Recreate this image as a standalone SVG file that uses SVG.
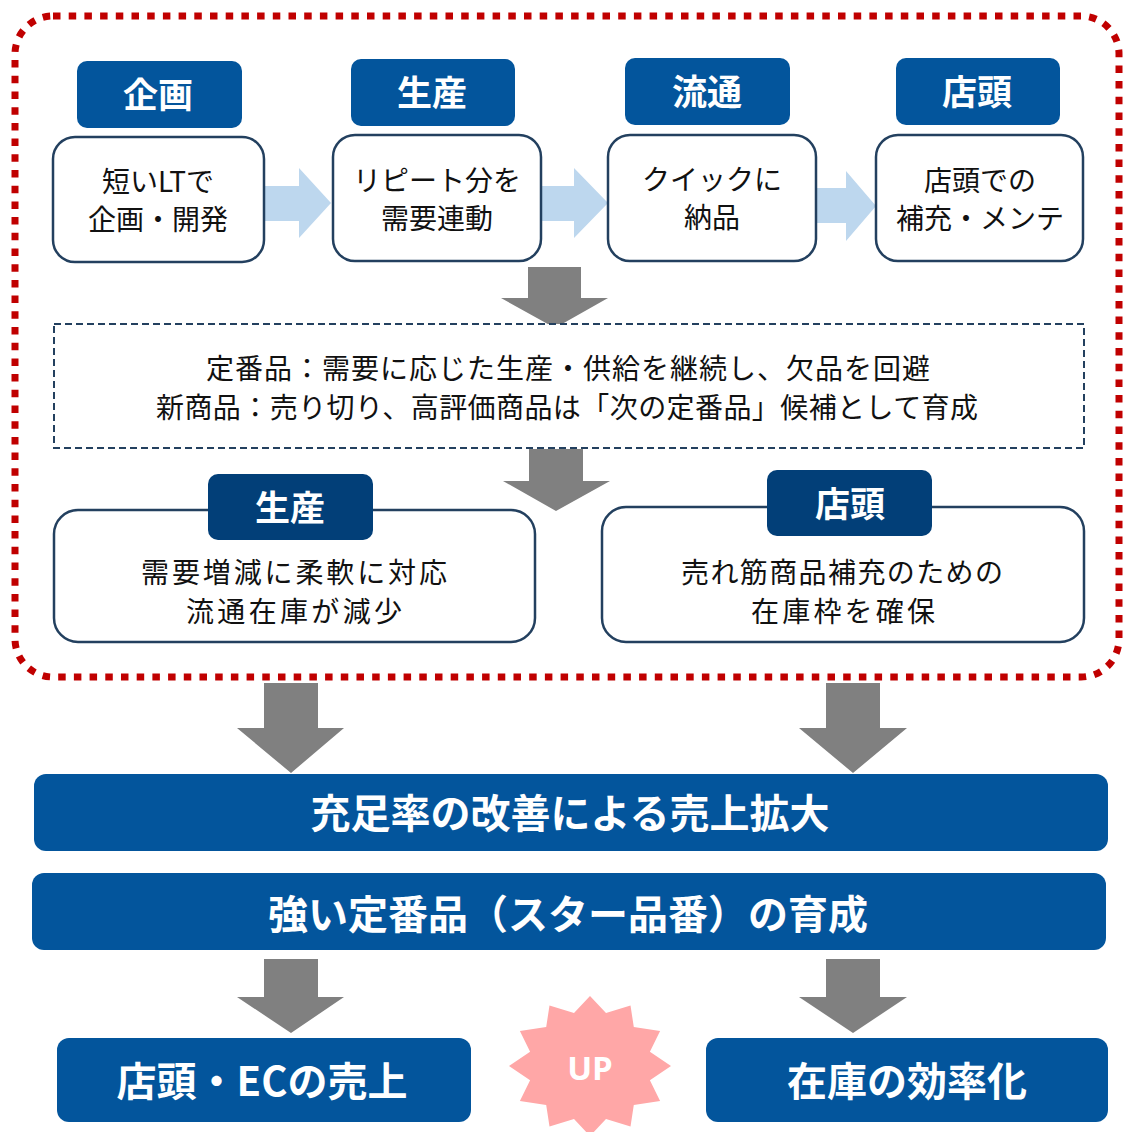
<svg xmlns="http://www.w3.org/2000/svg" width="1124" height="1132" viewBox="0 0 1124 1132">
<style>
.hdr{fill:#03559C}
.hdr2{fill:#023F78}
.box{fill:#fff;stroke:#23405F;stroke-width:2.5}
.jp{font-family:"Noto Sans CJK JP","Noto Sans",sans-serif;text-anchor:middle}
.ht{font-size:35px;font-weight:700;fill:#fff}
.bt{font-size:28px;fill:#111}
.big{font-size:40px;font-weight:700;fill:#fff}
.lb{fill:#BDD7EE}
.ga{fill:#808080}
</style>
<rect width="1124" height="1132" fill="#fff"/>
<g id="frame">
<rect x="15" y="16" width="1104" height="661" rx="38" fill="none" stroke="#C00000" stroke-width="7" stroke-dasharray="7.5 8.2"/>
</g>
<g id="connectors">
<polygon class="lb" points="264,186 299,186 299,168 331,203 299,238 299,221 264,221"/>
<polygon class="lb" points="540,186 574,186 574,168 608,203 574,238 574,221 540,221"/>
<polygon class="lb" points="815,188 846,188 846,171 876,206 846,241 846,223 815,223"/>
<polygon class="ga" points="528,267 581,267 581,298 608,298 555,328 501,298 528,298"/>
<polygon class="ga" points="529,449 583,449 583,481 610,481 556,511 503,481 529,481"/>
<polygon class="ga" points="264,683 318,683 318,728 344,728 291,773 237,728 264,728"/>
<polygon class="ga" points="826,683 880,683 880,728 907,728 853,773 799,728 826,728"/>
<polygon class="ga" points="264,959 318,959 318,997 344,997 291,1033 237,997 264,997"/>
<polygon class="ga" points="826,959 880,959 880,997 907,997 853,1033 799,997 826,997"/>
</g>
<g id="kikaku">
<rect class="hdr" x="77" y="61" width="165" height="67" rx="10"/>
<text class="jp ht" x="158" y="108">企画</text>
<rect class="box" x="53" y="137" width="211" height="125" rx="22"/>
<text class="jp bt" x="158" y="192">短いLTで</text>
<text class="jp bt" x="158" y="230">企画・開発</text>
</g>
<g id="seisan">
<rect class="hdr" x="351" y="59" width="164" height="67" rx="10"/>
<text class="jp ht" x="432" y="106">生産</text>
<rect class="box" x="333" y="135" width="208" height="126" rx="22"/>
<text class="jp bt" x="437" y="191">リピート分を</text>
<text class="jp bt" x="437" y="229">需要連動</text>
</g>
<g id="ryutsu">
<rect class="hdr" x="625" y="58" width="165" height="67" rx="10"/>
<text class="jp ht" x="707" y="105">流通</text>
<rect class="box" x="608" y="135" width="208" height="126" rx="22"/>
<text class="jp bt" x="712" y="190">クイックに</text>
<text class="jp bt" x="712" y="228">納品</text>
</g>
<g id="tento">
<rect class="hdr" x="896" y="58" width="164" height="67" rx="10"/>
<text class="jp ht" x="977" y="105">店頭</text>
<rect class="box" x="876" y="135" width="207" height="126" rx="22"/>
<text class="jp bt" x="980" y="191">店頭での</text>
<text class="jp bt" x="980" y="229">補充・メンテ</text>
</g>
<g id="policy">
<rect x="54" y="324" width="1030" height="124" fill="#fff" stroke="#23405F" stroke-width="2" stroke-dasharray="7 4"/>
<text class="jp bt" x="568" y="379" textLength="724" lengthAdjust="spacing">定番品：需要に応じた生産・供給を継続し、欠品を回避</text>
<text class="jp bt" x="567" y="418" textLength="822" lengthAdjust="spacing">新商品：売り切り、高評価商品は「次の定番品」候補として育成</text>
</g>
<g id="seisan2">
<rect class="box" x="54" y="510" width="481" height="132" rx="24"/>
<rect class="hdr2" x="208" y="474" width="165" height="66" rx="10"/>
<text class="jp ht" x="290" y="521">生産</text>
<text class="jp bt" x="294" y="583" textLength="306" lengthAdjust="spacing">需要増減に柔軟に対応</text>
<text class="jp bt" x="294" y="622" textLength="216" lengthAdjust="spacing">流通在庫が減少</text>
</g>
<g id="tento2">
<rect class="box" x="602" y="507" width="482" height="135" rx="24"/>
<rect class="hdr2" x="767" y="470" width="165" height="66" rx="10"/>
<text class="jp ht" x="850" y="517">店頭</text>
<text class="jp bt" x="842" y="583" textLength="322" lengthAdjust="spacing">売れ筋商品補充のための</text>
<text class="jp bt" x="843" y="622" textLength="184" lengthAdjust="spacing">在庫枠を確保</text>
</g>
<g id="banner1">
<rect class="hdr" x="34" y="774" width="1074" height="77" rx="12"/>
<text class="jp big" x="570" y="828">充足率の改善による売上拡大</text>
</g>
<g id="banner2">
<rect class="hdr" x="32" y="873" width="1074" height="77" rx="12"/>
<text class="jp big" x="568" y="929">強い定番品（スター品番）の育成</text>
</g>
<g id="sales">
<rect class="hdr" x="57" y="1038" width="414" height="84" rx="12"/>
<text class="jp big" x="262" y="1096">店頭・ECの売上</text>
</g>
<g id="inventory">
<rect class="hdr" x="706" y="1038" width="402" height="84" rx="12"/>
<text class="jp big" x="907" y="1096">在庫の効率化</text>
</g>
<g id="up">
<polygon fill="#FFA7A7" points="590,996 606,1012.9 630.5,1005.4 633.8,1027.1 660.1,1031 649.9,1051.8 671,1066 649.9,1080.2 660.1,1101 633.8,1104.9 630.5,1126.6 606,1119.1 590,1136 574,1119.1 549.5,1126.6 546.2,1104.9 519.9,1101 530.1,1080.2 509,1066 530.1,1051.8 519.9,1031 546.2,1027.1 549.5,1005.4 574,1012.9"/>
<text x="590" y="1080" font-family="'Open Sans','Liberation Sans',sans-serif" font-size="33" font-weight="700" fill="#fff" text-anchor="middle">UP</text>
</g>
</svg>
